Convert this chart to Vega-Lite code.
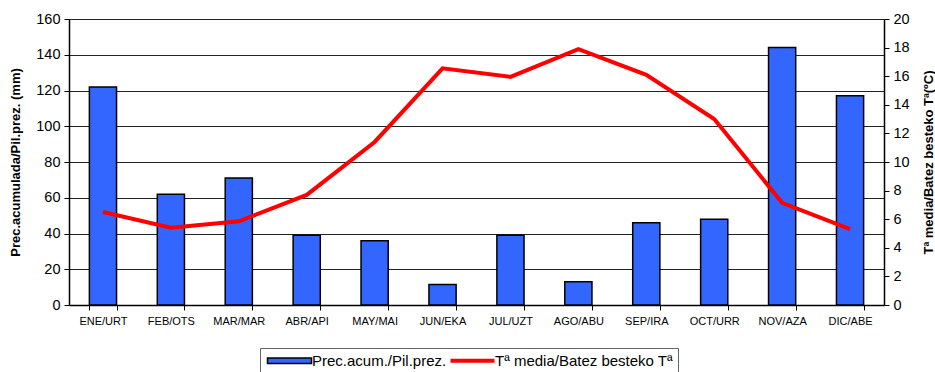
{
  "$schema": "https://vega.github.io/schema/vega-lite/v6.json",
  "width": 815,
  "height": 286,
  "autosize": {"type": "none"},
  "padding": {"left": 69, "top": 19, "right": 51, "bottom": 67},
  "background": "white",
  "config": {
    "font": "Liberation Sans",
    "view": {"stroke": null},
    "axis": {"labelColor": "#000", "titleColor": "#000", "domainColor": "#000", "tickColor": "#000", "labelFont": "Liberation Sans", "titleFont": "Liberation Sans", "labelOverlap": false}
  },
  "data": {
    "values": [
      {"mes": "ENE/URT", "prec": 122, "temp": 6.5},
      {"mes": "FEB/OTS", "prec": 62, "temp": 5.4},
      {"mes": "MAR/MAR", "prec": 71, "temp": 5.85},
      {"mes": "ABR/API", "prec": 39, "temp": 7.7},
      {"mes": "MAY/MAI", "prec": 36, "temp": 11.4},
      {"mes": "JUN/EKA", "prec": 11.5, "temp": 16.55},
      {"mes": "JUL/UZT", "prec": 39, "temp": 15.95},
      {"mes": "AGO/ABU", "prec": 13, "temp": 17.9},
      {"mes": "SEP/IRA", "prec": 46, "temp": 16.1},
      {"mes": "OCT/URR", "prec": 48, "temp": 13.0},
      {"mes": "NOV/AZA", "prec": 144, "temp": 7.15},
      {"mes": "DIC/ABE", "prec": 117, "temp": 5.3}
    ]
  },
  "encoding": {
    "x": {
      "field": "mes", "type": "nominal", "sort": null,
      "scale": {"paddingInner": 0.6, "paddingOuter": 0.3},
      "axis": {"title": null, "labelAngle": 0, "labelFontSize": 11, "tickBand": "extent", "tickSize": 5, "labelPadding": 5, "domainWidth": 1.5}
    }
  },
  "layer": [
    {
      "mark": {"type": "bar", "stroke": "#000", "strokeWidth": 1.5},
      "encoding": {
        "y": {
          "field": "prec", "type": "quantitative",
          "scale": {"domain": [0, 160]},
          "axis": {"title": "Prec.acumulada/Pil.prez. (mm)", "titleFontSize": 13, "titleFontWeight": "bold", "labelFontSize": 14.5, "values": [0,20,40,60,80,100,120,140,160], "grid": true, "gridColor": "#222", "gridWidth": 1, "tickSize": 5, "labelPadding": 4, "labelFlush": false, "titleX": -54, "titleY": 143, "titleAlign": "center", "titleBaseline": "middle", "titleAngle": -90, "domainWidth": 1.5}
        },
        "fill": {
          "datum": "Prec.acum./Pil.prez.", "type": "nominal",
          "scale": {"domain": ["Prec.acum./Pil.prez.", "Tª media/Batez besteko Tª"], "range": ["#3366FF", "#FF0000"]},
          "legend": {
            "title": null, "orient": "none", "legendX": 191, "legendY": 329, "direction": "horizontal",
            "labelFontSize": 15, "labelFont": "Liberation Sans", "labelColor": "#000", "labelLimit": 300,
            "symbolSize": 1936, "strokeColor": "#666", "padding": 5, "columnPadding": -5, "labelOffset": 15, "symbolOffset": 17,
            "symbolType": "M-1,-0.13H1V0.13H-1Z", "symbolStrokeColor": "#000", "symbolStrokeWidth": 1.5,
            "encode": {
              "symbols": {
                "update": {
                  "shape": {"signal": "datum.index === 0 ? 'M-1,-0.13H1V0.13H-1Z' : 'stroke'"},
                  "stroke": {"signal": "datum.index === 0 ? '#000' : '#FF0000'"},
                  "strokeWidth": {"signal": "datum.index === 0 ? 1.5 : 4"},
                  "fill": {"signal": "datum.index === 0 ? '#3366FF' : 'transparent'"}
                }
              }
            }
          }
        }
      }
    },
    {
      "mark": {"type": "line", "strokeWidth": 4},
      "encoding": {
        "y": {
          "field": "temp", "type": "quantitative",
          "scale": {"domain": [0, 20]},
          "axis": {"orient": "right", "title": "Tª media/Batez besteko Tª(ºC)", "titleAngle": -90, "titleFontSize": 13, "titleFontWeight": "bold", "labelFontSize": 14.5, "values": [0,2,4,6,8,10,12,14,16,18,20], "grid": false, "tickSize": 5, "labelPadding": 4, "labelFlush": false, "titleX": 44, "titleY": 143, "titleAlign": "center", "titleBaseline": "middle", "domainWidth": 1.5}
        },
        "stroke": {"datum": "Tª media/Batez besteko Tª", "type": "nominal", "scale": {"range": ["#FF0000"]}, "legend": null}
      }
    }
  ],
  "resolve": {"scale": {"y": "independent"}}
}
